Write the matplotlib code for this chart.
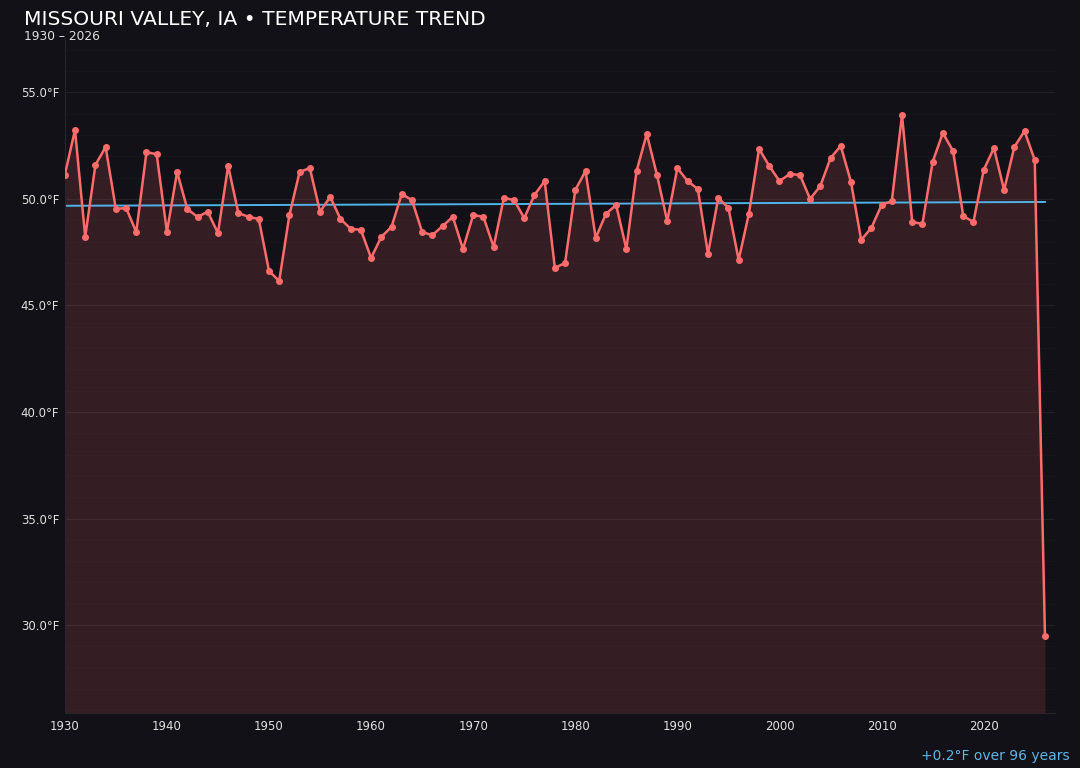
import numpy as np
import matplotlib.pyplot as plt
from matplotlib.ticker import MultipleLocator, FuncFormatter

years = list(range(1930, 2027))
temps = [
    51.13, 53.24, 48.22, 51.60, 52.44, 49.53, 49.58, 48.45, 52.20, 52.10,
    48.45, 51.27, 49.53, 49.16, 49.40, 48.40, 51.55, 49.34, 49.16, 49.06,
    46.62, 46.15, 49.25, 51.27, 51.45, 49.40, 50.10, 49.06, 48.60, 48.55,
    47.23, 48.22, 48.69, 50.23, 49.95, 48.45, 48.30, 48.73, 49.16, 47.65,
    49.25, 49.16, 47.75, 50.05, 49.95, 49.10, 50.19, 50.84, 46.76, 47.00,
    50.42, 51.31, 48.17, 49.30, 49.72, 47.65, 51.31, 53.05, 51.13, 48.97,
    51.45, 50.84, 50.47, 47.42, 50.05, 49.58, 47.14, 49.30, 52.35, 51.55,
    50.84, 51.17, 51.13, 50.00, 50.61, 51.92, 52.49, 50.80, 48.08, 48.64,
    49.72, 49.90, 53.94, 48.92, 48.83, 51.74, 53.10, 52.25, 49.20, 48.92,
    51.36, 52.39, 50.42, 52.44, 53.19, 51.83, 29.50,
]
trend_years = [1930, 2026]
trend_vals = [49.68, 49.86]

bg = "#121117"
line_c = "#ff6b6b"
trend_c = "#4fb3e8"

fig = plt.figure(figsize=(10.8, 7.68), dpi=100, facecolor=bg)
ax = fig.add_axes([0.060, 0.0716, 0.917, 0.8793], facecolor=bg)
ax.set_axisbelow(True)

pad = 3.63
ylo = min(temps) - pad
ax.fill_between(years, temps, ylo, color=line_c, alpha=0.15, lw=0, zorder=1)
ax.plot(trend_years, trend_vals, color=trend_c, lw=1.4, zorder=2)
ax.plot(years, temps, color=line_c, lw=1.8, marker="o", ms=4, zorder=3)

ax.set_xlim(1930, 2027)
ax.set_ylim(ylo, max(temps) + pad)
ax.xaxis.set_major_locator(MultipleLocator(10))
ax.yaxis.set_major_locator(MultipleLocator(5))
ax.yaxis.set_minor_locator(MultipleLocator(1))
ax.yaxis.set_major_formatter(FuncFormatter(lambda v, p: f"{v:.1f}°F"))
ax.grid(axis="y", which="major", color="#222128", lw=0.8)
ax.grid(axis="y", which="minor", color="#17161c", lw=0.7)
ax.tick_params(axis="both", which="both", length=0, colors="#e0e0e0", labelsize=8.5)
ax.tick_params(axis="y", pad=4)
ax.tick_params(axis="x", pad=5)
for s in ["top", "right"]:
    ax.spines[s].set_visible(False)
for s in ["left", "bottom"]:
    ax.spines[s].set_color("#26252c")

fig.text(0.022, 0.974, "MISSOURI VALLEY, IA • TEMPERATURE TREND", color="white",
         fontsize=14.6, va="center", ha="left")
fig.text(0.022, 0.953, "1930 – 2026", color="#e0e0e0", fontsize=8.8, va="center", ha="left")
fig.text(0.990, 0.016, "+0.2°F over 96 years", color="#5fb6e6", fontsize=10,
         va="center", ha="right")

fig.savefig("out.png", dpi=100, facecolor=bg)
